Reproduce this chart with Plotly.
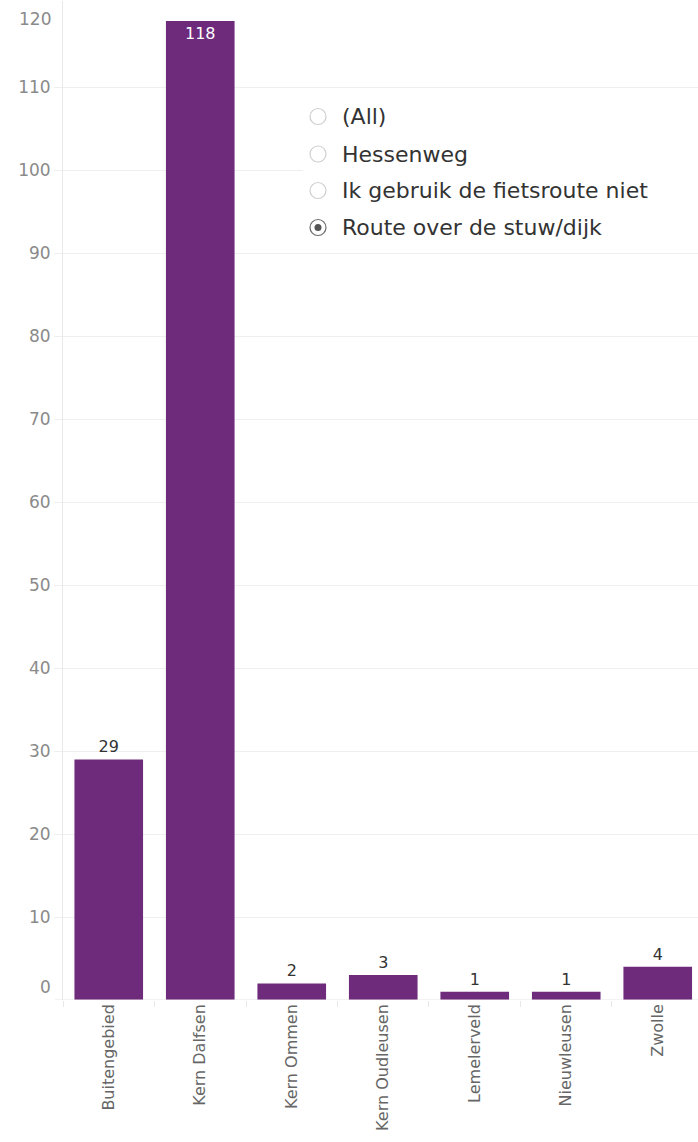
import plotly.graph_objects as go

categories = ["Buitengebied", "Kern Dalfsen", "Kern Ommen", "Kern Oudleusen",
              "Lemelerveld", "Nieuwleusen", "Zwolle"]
values = [29, 118, 2, 3, 1, 1, 4]
y_ticks = [10, 20, 30, 40, 50, 60, 70, 80, 90, 100, 110]
y_edge_ticks = [0, 120]
filter_options = ["(All)", "Hessenweg", "Ik gebruik de fietsroute niet", "Route over de stuw/dijk"]
selected_option = "Route over de stuw/dijk"

W, H = 698, 1142
ML, MR, MT, MB = 63, 0, 1, 142
PW, PH = W - ML - MR, H - MT - MB
BAR = "#6e2a7b"
FONT = "DejaVu Sans"

def px(x):
    return (x - ML) / PW

def py(y):
    return (H - MB - y) / PH

positions = ["inside" if v > 100 else "outside" for v in values]

fig = go.Figure()
fig.add_trace(go.Bar(
    x=categories, y=values, width=0.75,
    marker=dict(color=BAR, line=dict(width=0)),
    text=[str(v) for v in values], textposition=positions,
    insidetextanchor="end", textangle=0,
    insidetextfont=dict(color="white", size=16, family=FONT),
    outsidetextfont=dict(color="#333333", size=16, family=FONT),
    cliponaxis=False, hoverinfo="skip",
))

shapes = []
annotations = []

# baseline extending left of axis
shapes.append(dict(type="line", xref="paper", yref="y", x0=px(55), x1=1, y0=0, y1=0,
                   line=dict(color="#e4e4e4", width=1), layer="above"))

# edge y tick labels (clamped inside like the original)
for v, shift in zip(y_edge_ticks, [13, -15]):
    annotations.append(dict(xref="paper", yref="y", x=0, y=v, xanchor="right", yanchor="middle",
                            xshift=-10, yshift=shift, text=str(v), showarrow=False,
                            font=dict(size=17, color="#8a8a8a", family=FONT)))

# filter panel background
shapes.append(dict(type="rect", xref="paper", yref="paper", x0=px(303), x1=1,
                   y0=py(250), y1=py(96), fillcolor="white", line=dict(width=0), layer="above"))

rows_y = [116.5, 154, 190.5, 227.5]
for opt, yy in zip(filter_options, rows_y):
    sel = opt == selected_option
    shapes.append(dict(type="circle", xref="paper", yref="paper", xsizemode="pixel", ysizemode="pixel",
                       xanchor=px(318), yanchor=py(yy), x0=-8, x1=8, y0=-8, y1=8,
                       line=dict(color="#6b6b6b" if sel else "#cfcfcf", width=1.2),
                       fillcolor="white", layer="above"))
    if sel:
        shapes.append(dict(type="circle", xref="paper", yref="paper", xsizemode="pixel", ysizemode="pixel",
                           xanchor=px(318), yanchor=py(yy), x0=-3.5, x1=3.5, y0=-3.5, y1=3.5,
                           line=dict(width=0), fillcolor="#555555", layer="above"))
    annotations.append(dict(xref="paper", yref="paper", x=px(340), y=py(yy), xanchor="left", yanchor="middle",
                            text=opt, showarrow=False, font=dict(size=22, color="#333333", family=FONT)))

fig.update_layout(
    width=W, height=H, margin=dict(l=ML, r=MR, t=MT, b=MB),
    paper_bgcolor="white", plot_bgcolor="white", showlegend=False,
    bargap=0.25, font=dict(family=FONT),
    shapes=shapes, annotations=annotations,
    xaxis=dict(range=[-0.5, 6.44], tickangle=-90, ticks="outside", tickson="boundaries",
               ticklen=6, tickcolor="#e8e8e8", showgrid=False, showline=False, zeroline=False,
               tickfont=dict(size=16, color="#666666", family=FONT), fixedrange=True),
    yaxis=dict(range=[0, 120.4], tickvals=y_ticks, ticks="outside", ticklen=8, tickcolor="#efefef",
               showgrid=True, gridcolor="#efefef", gridwidth=1, zeroline=False,
               showline=True, linecolor="#e8e8e8", linewidth=1,
               tickfont=dict(size=17, color="#8a8a8a", family=FONT), fixedrange=True),
)

fig.write_html("out.html", config={"displayModeBar": False},
               post_script="document.body.style.margin='0px';document.body.style.overflow='hidden';")
